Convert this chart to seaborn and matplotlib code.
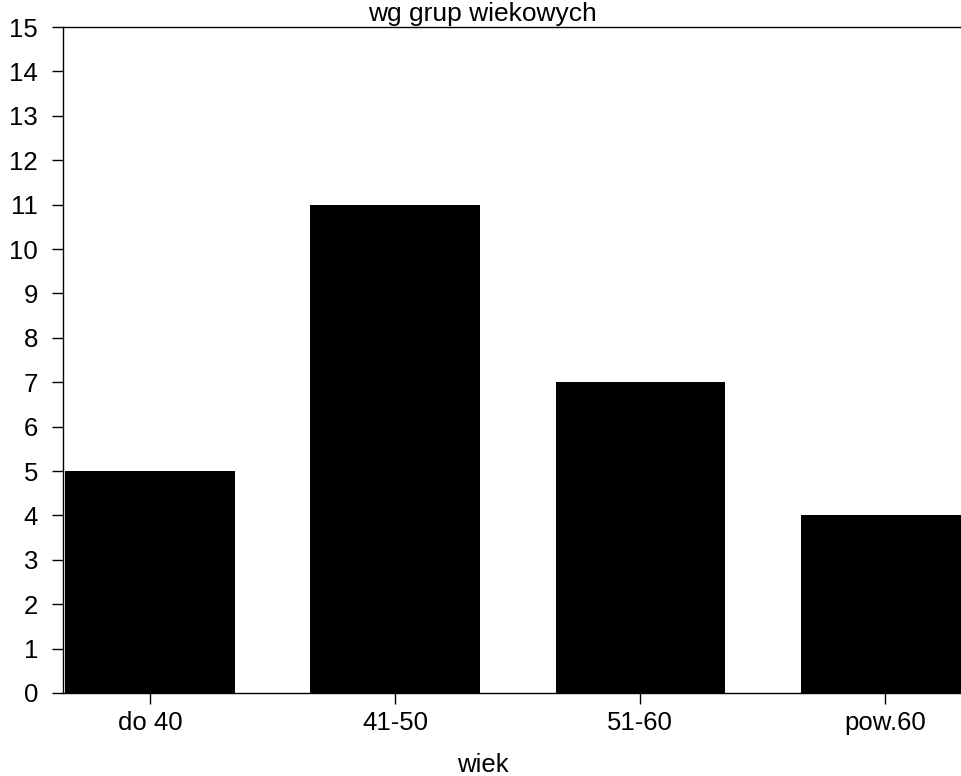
import matplotlib
matplotlib.use("Agg")
import matplotlib.pyplot as plt
import seaborn as sns
import pandas as pd

# dane
wiek = ["do 40", "41-50", "51-60", "pow.60"]
liczba = [5, 11, 7, 4]

df = pd.DataFrame({"wiek": wiek, "liczba": liczba})

sns.set_style("white")
plt.rcParams["font.family"] = ["Liberation Sans", "DejaVu Sans"]
plt.rcParams["text.color"] = "black"
plt.rcParams["xtick.color"] = "black"
plt.rcParams["ytick.color"] = "black"
plt.rcParams["axes.labelcolor"] = "black"

fig = plt.figure(figsize=(9.62, 7.76), dpi=100)
ax = fig.add_axes([63 / 962, 1 - 693 / 776, 1 - 63 / 962, (693 - 27) / 776])

sns.barplot(data=df, x="wiek", y="liczba", color="black", width=0.69,
            saturation=1, ax=ax, edgecolor="black", linewidth=0)

ax.set_xlim(-0.355, 3.314)
ax.set_ylim(0, 15)
ax.set_yticks(range(0, 16))
ax.tick_params(axis="both", which="both", direction="out", length=8, width=1,
               color="black", labelsize=18.5, left=True, bottom=True, pad=5)
ax.tick_params(axis="y", pad=10)
for s in ["left", "top", "bottom"]:
    ax.spines[s].set_visible(True)
    ax.spines[s].set_color("black")
    ax.spines[s].set_linewidth(1)
ax.spines["right"].set_visible(False)

ax.set_xlabel("")
ax.set_ylabel("")
fig.text(483 / 962, 1 - 765 / 776, "wiek", ha="center", va="center", fontsize=18.5)
# tytul (w oryginale przyciety u gory)
fig.text(482 / 962, 1 - 2 / 776, "wg grup wiekowych", ha="center", va="top", fontsize=19)

fig.savefig("out.png", dpi=100)
